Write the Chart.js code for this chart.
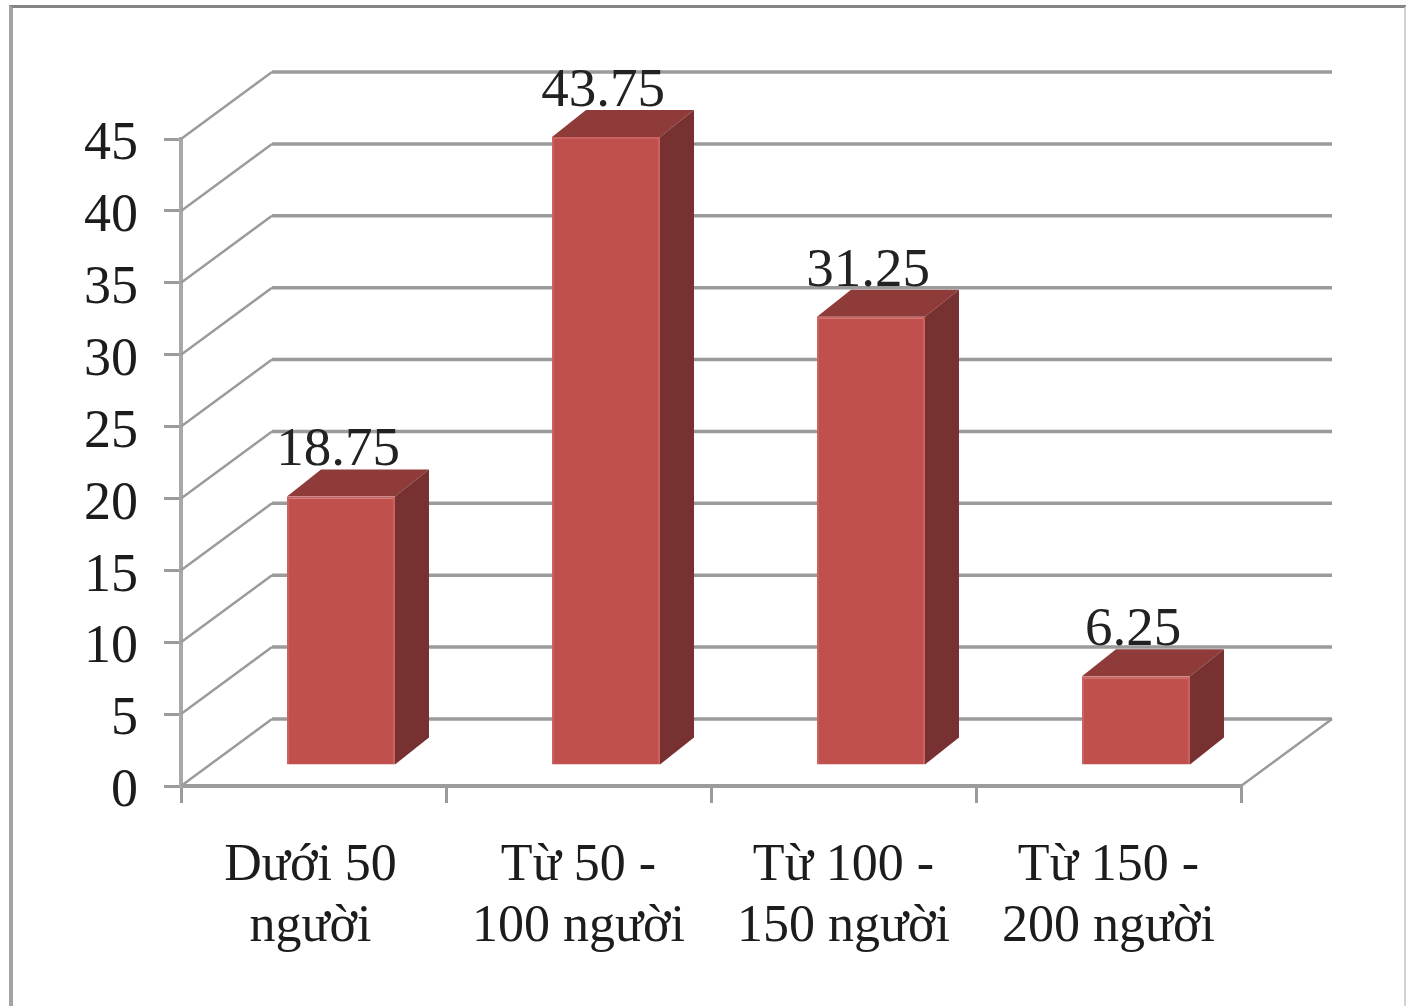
<!DOCTYPE html>
<html>
<head>
<meta charset="utf-8">
<title>Bar chart</title>
<script src="https://cdn.jsdelivr.net/npm/chart.js@4"></script>
<style>
  html, body { margin: 0; background: #fff; overflow: hidden; }
  #frame {
    position: absolute; left: 9px; top: 5px; width: 1391px; height: 1010px;
    border-top: 3px solid #858585; border-left: 4px solid #a3a3a3; border-right: 3px solid #d2d2d2;
  }
  #chart { position: absolute; left: 0; top: 0; }
</style>
</head>
<body>
<div id="frame"></div>
<canvas id="chart" width="1406" height="1006"></canvas>
<script>
var categories = [
  ["Dưới 50", "người"],
  ["Từ 50 -", "100 người"],
  ["Từ 100 -", "150 người"],
  ["Từ 150 -", "200 người"],
];
var percentValues = [18.75, 43.75, 31.25, 6.25];

var serif = "'Liberation Serif', 'Times New Roman', serif";
var lineColor = "#9b9b9b";

// depth of the box the bars stand in, and of the bars themselves
var wall = { dx: 91, dy: -67 };
var barShift = { dx: 27.5, dy: -20 };
var barDepth = { dx: 34, dy: -27 };

function poly(ctx, points, fill) {
  ctx.beginPath();
  points.forEach(function (p, i) {
    if (i === 0) ctx.moveTo(p[0], p[1]);
    else ctx.lineTo(p[0], p[1]);
  });
  ctx.closePath();
  ctx.fillStyle = fill;
  ctx.fill();
}

// back wall, side wall and floor lines
var wallPlugin = {
  id: "wall",
  // y tick numbers sit a little under their grid lines
  afterLayout: function (chart) {
    chart.scales.y.getLabelItems(chart.chartArea).forEach(function (item) {
      item.options.translation[1] += 6;
    });
    chart.scales.x.getLabelItems(chart.chartArea)[0].options.translation[0] -= 3;
  },
  beforeDatasetsDraw: function (chart) {
    var ctx = chart.ctx;
    var area = chart.chartArea;
    var y = chart.scales.y;
    ctx.save();
    ctx.strokeStyle = lineColor;
    y.ticks.forEach(function (t) {
      var py = y.getPixelForValue(t.value);
      ctx.lineWidth = 2.5;
      ctx.beginPath();
      ctx.moveTo(area.left, py);
      ctx.lineTo(area.left + wall.dx, py + wall.dy);
      ctx.stroke();
      ctx.lineWidth = 3.5;
      ctx.beginPath();
      ctx.moveTo(area.left + wall.dx, py + wall.dy);
      ctx.lineTo(area.right + wall.dx, py + wall.dy);
      ctx.stroke();
    });
    ctx.lineWidth = 2.5;
    ctx.beginPath();
    ctx.moveTo(area.right, area.bottom);
    ctx.lineTo(area.right + wall.dx, area.bottom + wall.dy);
    ctx.stroke();
    ctx.restore();
  },
};

// pushes the bars onto the floor and adds their top and side faces
var boxPlugin = {
  id: "box",
  beforeDatasetDraw: function (chart) {
    var ctx = chart.ctx;
    ctx.save();
    ctx.translate(barShift.dx, barShift.dy);
    chart.getDatasetMeta(0).data.forEach(function (bar) {
      var l = bar.x - bar.width / 2;
      var r = bar.x + bar.width / 2;
      var t = bar.y;
      var b = bar.base;
      var dx = barDepth.dx;
      var dy = barDepth.dy;
      poly(ctx, [[l, t], [l + dx, t + dy], [r + dx, t + dy], [r, t]], "#8e3b39");
      poly(ctx, [[r, t], [r + dx, t + dy], [r + dx, b + dy], [r, b]], "#773130");
    });
  },
  afterDatasetDraw: function (chart) {
    chart.ctx.restore();
  },
  afterDatasetsDraw: function (chart) {
    var ctx = chart.ctx;
    ctx.save();
    ctx.font = "55px " + serif;
    ctx.fillStyle = "#222";
    ctx.textAlign = "center";
    ctx.textBaseline = "alphabetic";
    chart.getDatasetMeta(0).data.forEach(function (bar, i) {
      ctx.fillText(String(percentValues[i]), bar.x + barShift.dx - 3, bar.y + barShift.dy - 31);
    });
    ctx.restore();
  },
};

var chart = new Chart(document.getElementById("chart").getContext("2d"), {
  type: "bar",
  data: {
    labels: categories,
    datasets: [
      {
        data: percentValues,
        backgroundColor: "#c0504d",
        borderColor: "#cb625f",
        borderWidth: 2,
        barPercentage: 0.4075,
        categoryPercentage: 1,
        clip: false,
      },
    ],
  },
  options: {
    responsive: false,
    animation: false,
    layout: { padding: { left: 0, right: 165, top: 139, bottom: 0 } },
    plugins: {
      legend: { display: false },
      title: { display: false },
      tooltip: { enabled: false },
    },
    scales: {
      x: {
        afterFit: function (scale) {
          scale.height = 220;
        },
        border: { color: lineColor, width: 4 },
        grid: { drawOnChartArea: false, color: lineColor, lineWidth: 3, tickLength: 17 },
        ticks: {
          color: "#1c1c1c",
          font: { family: serif, size: 52, lineHeight: 1.19 },
          padding: 32,
          maxRotation: 0,
          autoSkip: false,
        },
      },
      y: {
        min: 0,
        max: 45,
        afterFit: function (scale) {
          scale.width = 181;
        },
        border: { color: "#a8a8a8", width: 4 },
        grid: { drawOnChartArea: false, color: lineColor, lineWidth: 3, tickLength: 17 },
        ticks: {
          stepSize: 5,
          color: "#1c1c1c",
          font: { family: serif, size: 54 },
          padding: 26,
        },
      },
    },
  },
  plugins: [wallPlugin, boxPlugin],
});
</script>
</body>
</html>
